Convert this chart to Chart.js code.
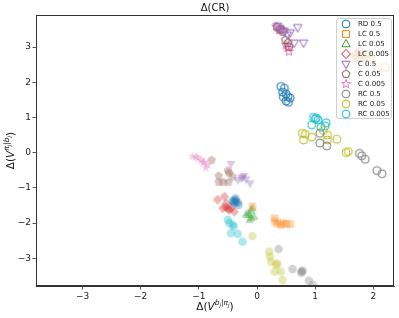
<!DOCTYPE html>
<html>
<head>
<meta charset="utf-8">
<script src="https://cdn.jsdelivr.net/npm/chart.js@4.4.0/dist/chart.umd.min.js"></script>
<style>
  html, body { margin: 0; padding: 0; background: #fff; }
  #wrap { width: 399px; height: 318px; }
</style>
</head>
<body>
<div id="wrap"><canvas id="crChart" width="399" height="318"></canvas></div>
<script>
const seriesLabels = ['RD 0.5', 'LC 0.5', 'LC 0.05', 'LC 0.005', 'C 0.5', 'C 0.05', 'C 0.005', 'RC 0.5', 'RC 0.05', 'RC 0.005'];
const seriesColors = ['#1f77b4', '#ff7f0e', '#2ca02c', '#d62728', '#9467bd', '#8c564b', '#e377c2', '#7f7f7f', '#bcbd22', '#17becf'];
const seriesShapes = ['circle', 'square', 'triUp', 'diamond', 'triDown', 'pentagon', 'star', 'circle', 'circle', 'circle'];

const xTicks = [-3, -2, -1, 0, 1, 2];
const yTicks = [-3, -2, -1, 0, 1, 2, 3];
const xMin = -3.80, xMax = 2.355;
const yMin = -3.79, yMax = 3.91;

// hollow markers (the ones in the legend)
const rd05Open = [[0.41, 1.88], [0.47, 1.83], [0.44, 1.72], [0.50, 1.67], [0.45, 1.59], [0.53, 1.59], [0.50, 1.47], [0.57, 1.55], [0.54, 1.43]];
const lc05Open = [[1.78, 2.78], [1.88, 2.72], [1.95, 2.62], [2.20, 2.42], [1.70, 2.70]];
const lc005Open = [[1.72, 2.82], [1.80, 2.76], [1.76, 2.68], [1.88, 2.80]];
const lc0005Open = [[1.68, 2.78], [1.78, 2.88], [1.74, 2.72]];
const c05Open = [[0.35, 3.60], [0.47, 3.44], [0.57, 3.41], [0.70, 3.56], [0.64, 3.12], [0.80, 3.12], [0.40, 3.52], [0.52, 3.35]];
const c005Open = [[0.35, 3.56], [0.44, 3.44], [0.53, 3.12], [0.55, 3.01], [0.40, 3.50], [0.49, 3.20]];
const c0005Open = [[0.33, 3.58], [0.44, 3.50], [0.53, 2.97], [0.55, 2.87], [0.50, 3.05], [0.38, 3.48]];
const rc05Open = [[1.08, 0.55], [1.08, 0.27], [1.20, 0.19], [1.76, -0.02], [1.80, -0.09], [1.86, -0.19], [2.06, -0.51], [2.15, -0.60]];
const rc005Open = [[0.78, 0.55], [0.83, 0.52], [0.80, 0.36], [0.94, 0.44], [1.14, 0.63], [1.21, 0.50], [1.21, 0.36], [1.37, 0.38], [1.53, 0.00], [1.57, 0.03]];
const rc0005Open = [[0.97, 1.00], [1.02, 0.98], [1.00, 0.96], [0.94, 0.79], [1.10, 0.72], [1.19, 0.85], [1.17, 0.76], [1.05, 0.93]];

// faint filled markers
const rd05Filled = [[-0.38, -1.34], [-0.36, -1.39], [-0.42, -1.37], [-0.39, -1.44], [-0.33, -1.42], [-0.37, -1.30], [-0.32, -1.49], [-0.40, -1.40]];
const lc05Filled = [[-0.08, -1.53], [0.30, -1.86], [0.31, -1.96], [0.41, -2.05], [0.50, -2.03], [0.57, -2.03], [0.35, -2.02], [0.45, -2.00]];
const lc005Filled = [[-0.08, -1.58], [-0.13, -1.77], [-0.05, -1.82], [-0.10, -1.86], [-0.16, -1.72], [-0.19, -1.77], [-0.13, -1.91], [-0.10, -1.65]];
const lc0005Filled = [[-0.68, -1.34], [-0.56, -1.25], [-0.53, -1.44], [-0.45, -1.58], [-0.39, -1.68], [-0.50, -1.58], [-0.59, -1.58], [-0.54, -1.55], [-0.48, -1.63]];
const c05Filled = [[-0.45, -0.32], [-0.33, -0.78], [-0.22, -0.66], [-0.19, -0.76], [-0.12, -0.87], [-0.27, -0.73], [-0.25, -0.70]];
const c005Filled = [[-0.78, -0.21], [-0.50, -0.51], [-0.66, -0.66], [-0.66, -0.84], [-0.58, -0.84], [-0.49, -0.84], [-0.42, -0.68], [-0.48, -0.58]];
const c0005Filled = [[-1.11, -0.11], [-1.02, -0.16], [-0.96, -0.21], [-0.91, -0.26], [-0.85, -0.35], [-0.88, -0.44], [-0.93, -0.30], [-1.05, -0.12]];
const rc05Filled = [[0.37, -2.74], [0.61, -3.31], [0.76, -3.41], [0.78, -3.35], [0.89, -3.64], [0.96, -3.76], [0.77, -3.38]];
const rc005Filled = [[-0.08, -2.37], [0.21, -2.81], [0.22, -2.95], [0.24, -3.10], [0.33, -3.19], [0.30, -3.38], [0.41, -3.38], [0.44, -3.62], [0.35, -3.15]];
const rc0005Filled = [[-0.50, -1.91], [-0.42, -2.05], [-0.45, -2.29], [-0.33, -2.31], [-0.25, -2.53], [-0.40, -2.10], [-0.48, -2.00]];

const openSeries = [rd05Open, lc05Open, lc005Open, lc0005Open, c05Open, c005Open, c0005Open, rc05Open, rc005Open, rc0005Open];
const filledSeries = [rd05Filled, lc05Filled, lc005Filled, lc0005Filled, c05Filled, c005Filled, c0005Filled, rc05Filled, rc005Filled, rc0005Filled];

const FONT = "'DejaVu Sans', sans-serif";
const FILL_ALPHA = 0.35;

function rgba(hex, a) {
    const n = parseInt(hex.slice(1), 16);
    return `rgba(${n >> 16}, ${(n >> 8) & 255}, ${n & 255}, ${a})`;
}

// path for a marker shape centred on x, y
function markerPath(ctx, shape, x, y, r) {
    ctx.beginPath();
    if (shape === 'circle') {
        ctx.arc(x, y, r * 0.85, 0, Math.PI * 2);
    } else if (shape === 'square') {
        const h = r * 0.75;
        ctx.rect(x - h, y - h, 2 * h, 2 * h);
    } else if (shape === 'diamond') {
        ctx.moveTo(x, y - r); ctx.lineTo(x + r * 0.95, y); ctx.lineTo(x, y + r); ctx.lineTo(x - r * 0.95, y);
        ctx.closePath();
    } else if (shape === 'triUp' || shape === 'triDown') {
        const s = shape === 'triUp' ? 1 : -1;
        ctx.moveTo(x, y - s * r); ctx.lineTo(x + r * 0.9, y + s * r * 0.6); ctx.lineTo(x - r * 0.9, y + s * r * 0.6);
        ctx.closePath();
    } else if (shape === 'pentagon') {
        for (let k = 0; k < 5; k++) {
            const a = -Math.PI / 2 + k * 2 * Math.PI / 5;
            ctx.lineTo(x + r * 0.9 * Math.cos(a), y + r * 0.9 * Math.sin(a));
        }
        ctx.closePath();
    } else if (shape === 'star') {
        for (let k = 0; k < 10; k++) {
            const a = -Math.PI / 2 + k * Math.PI / 5;
            const rr = k % 2 ? r * 0.42 : r;
            ctx.lineTo(x + rr * Math.cos(a), y + rr * Math.sin(a));
        }
        ctx.closePath();
    }
}

function markerImage(shape, color, filled, r) {
    const size = Math.ceil(2 * r + 4);
    const c = document.createElement('canvas');
    c.width = size; c.height = size;
    const g = c.getContext('2d');
    markerPath(g, shape, size / 2, size / 2, r);
    if (filled) {
        g.fillStyle = rgba(color, FILL_ALPHA);
        g.fill();
    } else {
        g.strokeStyle = color;
        g.lineWidth = 1;
        g.stroke();
    }
    return c;
}

function makeSet(points, i, filled) {
    return {
        label: seriesLabels[i] + (filled ? ' filled' : ''),
        data: points.map(p => ({ x: p[0], y: p[1] })),
        pointStyle: markerImage(seriesShapes[i], seriesColors[i], filled, filled ? 5 : 4.7),
        pointRadius: 4,
        pointHoverRadius: 4
    };
}

const datasets = [];
seriesLabels.forEach((lab, i) => datasets.push(makeSet(openSeries[i], i, false)));
seriesLabels.forEach((lab, i) => datasets.push(makeSet(filledSeries[i], i, true)));

const xLabelParts = [
    { t: 'Δ(', s: 10.5, dy: 0 }, { t: 'V', s: 10.5, dy: 0, it: true },
    { t: 'b', s: 7.5, dy: -4.5, it: true }, { t: 'j', s: 5.5, dy: -2.5, it: true },
    { t: '|', s: 7.5, dy: -4.5 }, { t: 'π', s: 7.5, dy: -4.5, it: true },
    { t: 'j', s: 5.5, dy: -2.5, it: true }, { t: ')', s: 10.5, dy: 0 }
];
const yLabelParts = [
    { t: 'Δ(', s: 10.5, dy: 0 }, { t: 'V', s: 10.5, dy: 0, it: true },
    { t: 'π', s: 7.5, dy: -4.5, it: true }, { t: 'j', s: 5.5, dy: -2.5, it: true },
    { t: '|', s: 7.5, dy: -4.5 }, { t: 'b', s: 7.5, dy: -4.5, it: true },
    { t: 'j', s: 5.5, dy: -2.5, it: true }, { t: ')', s: 10.5, dy: 0 }
];

function drawMath(ctx, parts, x, y, angle) {
    ctx.save();
    ctx.translate(x, y);
    ctx.rotate(angle);
    ctx.textBaseline = 'alphabetic';
    ctx.textAlign = 'left';
    ctx.fillStyle = '#111';
    const widths = parts.map(p => {
        ctx.font = `${p.it ? 'italic ' : ''}${p.s}px ${FONT}`;
        return ctx.measureText(p.t).width;
    });
    let cx = -widths.reduce((a, b) => a + b, 0) / 2;
    parts.forEach((p, k) => {
        ctx.font = `${p.it ? 'italic ' : ''}${p.s}px ${FONT}`;
        ctx.fillText(p.t, cx, p.dy);
        cx += widths[k];
    });
    ctx.restore();
}

const decorations = {
    id: 'decorations',
    afterDatasetsDraw(chart) {
        const ctx = chart.ctx;
        const a = chart.chartArea;
        // box around the axes
        ctx.save();
        ctx.strokeStyle = '#333';
        ctx.lineWidth = 1;
        ctx.strokeRect(Math.round(a.left) + 0.5, Math.round(a.top) + 0.5,
            Math.round(a.right - a.left) - 1, Math.round(a.bottom - a.top) - 1);

        // legend above the points
        const bx = 336.5, by = 18.5, bw = 55, bh = 100;
        ctx.beginPath();
        ctx.roundRect(bx, by, bw, bh, 2.5);
        ctx.fillStyle = 'rgba(255,255,255,0.8)';
        ctx.fill();
        ctx.strokeStyle = '#d0d0d0';
        ctx.lineWidth = 1;
        ctx.stroke();
        ctx.font = `7px ${FONT}`;
        ctx.textBaseline = 'middle';
        ctx.textAlign = 'left';
        seriesLabels.forEach((lab, i) => {
            const y = by + 5.5 + i * 10;
            markerPath(ctx, seriesShapes[i], bx + 9.5, y, 4.6);
            ctx.strokeStyle = seriesColors[i];
            ctx.stroke();
            ctx.fillStyle = '#222';
            ctx.fillText(lab, bx + 21.5, y + 0.5);
        });
        ctx.restore();
    },
    afterDraw(chart) {
        const ctx = chart.ctx;
        const a = chart.chartArea;
        const cx = (a.left + a.right) / 2;
        const cy = (a.top + a.bottom) / 2;
        ctx.save();
        ctx.font = `10px ${FONT}`;
        ctx.fillStyle = '#111';
        ctx.textAlign = 'center';
        ctx.textBaseline = 'alphabetic';
        ctx.fillText('Δ(CR)', cx, 10.5);
        ctx.restore();
        drawMath(ctx, xLabelParts, cx, 309.5, 0);
        drawMath(ctx, yLabelParts, 13.5, cy, -Math.PI / 2);
    }
};

const tickFmt = v => String(v).replace('-', '\u2212');

const axisCommon = {
    type: 'linear',
    ticks: { font: { family: FONT, size: 9 }, color: '#222', padding: 1.5, maxRotation: 0, callback: tickFmt },
    grid: { display: true, drawOnChartArea: false, drawTicks: true, tickLength: 3.5, color: '#333', lineWidth: 0.8 },
    border: { display: true, color: '#333', width: 1 }
};

const ctx = document.getElementById('crChart').getContext('2d');
new Chart(ctx, {
    type: 'scatter',
    data: { datasets },
    options: {
        responsive: false,
        devicePixelRatio: 1,
        animation: false,
        events: [],
        layout: { padding: { left: 0, right: 4, top: 15, bottom: 0 } },
        plugins: { legend: { display: false }, tooltip: { enabled: false }, title: { display: false } },
        scales: {
            x: {
                ...axisCommon, min: xMin, max: xMax,
                afterBuildTicks: s => { s.ticks = xTicks.map(v => ({ value: v })); },
                afterFit: s => { s.height = 32; }
            },
            y: {
                ...axisCommon, min: yMin, max: yMax,
                afterBuildTicks: s => { s.ticks = yTicks.map(v => ({ value: v })); },
                afterFit: s => { s.width = 36; }
            }
        }
    },
    plugins: [decorations]
});
</script>
</body>
</html>
